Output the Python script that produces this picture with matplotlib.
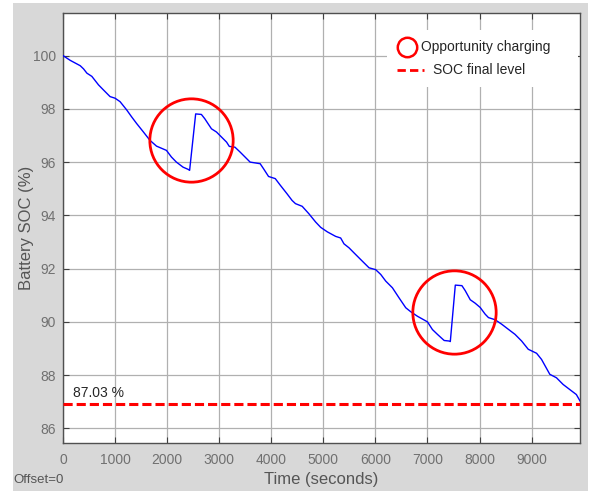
import matplotlib
matplotlib.use("Agg")
import matplotlib.pyplot as plt
from matplotlib.patches import Rectangle
from matplotlib.lines import Line2D

plt.rcParams['font.family'] = ['Liberation Sans', 'DejaVu Sans']

# ---- data ----
time_s = [0, 140, 331, 395, 459, 554, 682, 777, 904, 1000, 1096, 1223, 1318, 1414, 1541,
          1669, 1796, 1987, 2083, 2178, 2306, 2401, 2432,
          2548, 2658, 2723, 2787, 2852, 2948, 3045, 3142, 3194, 3303, 3400, 3497, 3594,
          3787, 3852, 3948, 4077, 4174, 4303, 4400, 4465, 4594, 4723, 4852, 4949,
          5077, 5237, 5333, 5397, 5494, 5590, 5718, 5878, 6006, 6103, 6199, 6327, 6455,
          6583, 6679, 6808, 7000, 7096, 7192, 7321, 7417, 7439,
          7535, 7662, 7726, 7822, 7917, 8013, 8108, 8172, 8299, 8427, 8554, 8682, 8809,
          8936, 9096, 9191, 9350, 9478, 9605, 9732, 9860, 9930]
soc = [100.0, 99.82, 99.62, 99.50, 99.34, 99.22, 98.90, 98.71, 98.46, 98.40, 98.27, 97.96,
       97.70, 97.45, 97.14, 96.82, 96.60, 96.44, 96.19, 96.00, 95.81, 95.73, 95.69,
       97.81, 97.79, 97.63, 97.44, 97.25, 97.13, 96.94, 96.75, 96.59, 96.56, 96.38, 96.19,
       96.00, 95.94, 95.75, 95.46, 95.38, 95.13, 94.81, 94.56, 94.44, 94.34, 94.06, 93.75,
       93.55, 93.38, 93.21, 93.15, 92.93, 92.78, 92.59, 92.34, 92.03, 91.96, 91.78, 91.53,
       91.28, 90.90, 90.53, 90.38, 90.21, 90.00, 89.71, 89.53, 89.30, 89.28, 89.26,
       91.38, 91.36, 91.17, 90.83, 90.70, 90.54, 90.29, 90.16, 90.08, 89.91, 89.72, 89.53,
       89.28, 88.97, 88.82, 88.59, 88.03, 87.90, 87.65, 87.46, 87.27, 87.03]
charging_t = [2458, 7509]
charging_soc = [96.83, 90.38]
final_level = 86.93
final_label = "87.03 %"
x_ticks = [0, 1000, 2000, 3000, 4000, 5000, 6000, 7000, 8000, 9000]
y_ticks = [86, 88, 90, 92, 94, 96, 98, 100]

W, H = 593, 491
fig = plt.figure(figsize=(W / 100, H / 100), dpi=100, facecolor='white')

def fx(px):
    return px / W

def fy(py):
    return 1 - py / H

# gray figure panel
fig.patches.append(Rectangle((fx(13), 0), fx(588) - fx(13), fy(3), transform=fig.transFigure,
                             facecolor='#d8d8d8', edgecolor='none', zorder=-10))

ax = fig.add_axes([fx(63), fy(443), fx(580) - fx(63), fy(13) - fy(443)])
ax.set_zorder(1)
ax.set_facecolor('white')
ax.set_axisbelow(True)

ax.plot(time_s, soc, color='#0000ff', lw=1.0, zorder=4)
ax.axhline(final_level, color='#ff0000', lw=2.2, dashes=(3, 1.3), zorder=4)
ax.plot(charging_t, charging_soc, linestyle='none', marker='o', ms=60, mfc='none',
        mec='#ff0000', mew=2.0, zorder=5)
ax.text(fx(73), fy(393), final_label, transform=fig.transFigure, fontsize=10,
        color='#262626', va='center', ha='left')

ax.set_xlim(0, 9930)
ax.set_ylim(85.45, 101.6)
ax.set_xticks(x_ticks)
ax.set_yticks(y_ticks)
ax.grid(True, color='#b0b0b0', lw=0.9)
ax.tick_params(direction='in', length=4, width=0.8, colors='#404040', labelcolor='#707070',
               labelsize=10, top=True, right=True)
ax.tick_params(axis='x', pad=7)
ax.tick_params(axis='y', pad=5)
for s in ax.spines.values():
    s.set_color('#505050')
    s.set_linewidth(1.0)

ax.set_xlabel('Time (seconds)', fontsize=12, color='#555555', labelpad=4)
ax.set_ylabel('Battery SOC (%)', fontsize=12, color='#555555', labelpad=-1)

# manual legend (MATLAB style)
ax.add_patch(Rectangle((fx(387), fy(87)), fx(578) - fx(387), fy(30) - fy(87),
                       transform=fig.transFigure, facecolor='white', edgecolor='none', zorder=3))
ax.add_line(Line2D([fx(407)], [fy(46.5)], transform=fig.transFigure, marker='o', ms=14,
                   mfc='none', mec='#ff0000', mew=1.8, zorder=6))
ax.add_line(Line2D([fx(397), fx(424)], [fy(70), fy(70)], transform=fig.transFigure,
                   color='#ff0000', lw=2.0, dashes=(3, 1.5), zorder=6))
ax.text(fx(421), fy(46.5), 'Opportunity charging', transform=fig.transFigure, fontsize=10,
        color='#262626', va='center', ha='left', zorder=6)
ax.text(fx(433), fy(70), 'SOC final level', transform=fig.transFigure, fontsize=10,
        color='#262626', va='center', ha='left', zorder=6)

fig.text(fx(13), fy(480), 'Offset=0', fontsize=9.5, color='#555555', va='center', ha='left')

fig.savefig('out.png', dpi=100, facecolor=fig.get_facecolor())
